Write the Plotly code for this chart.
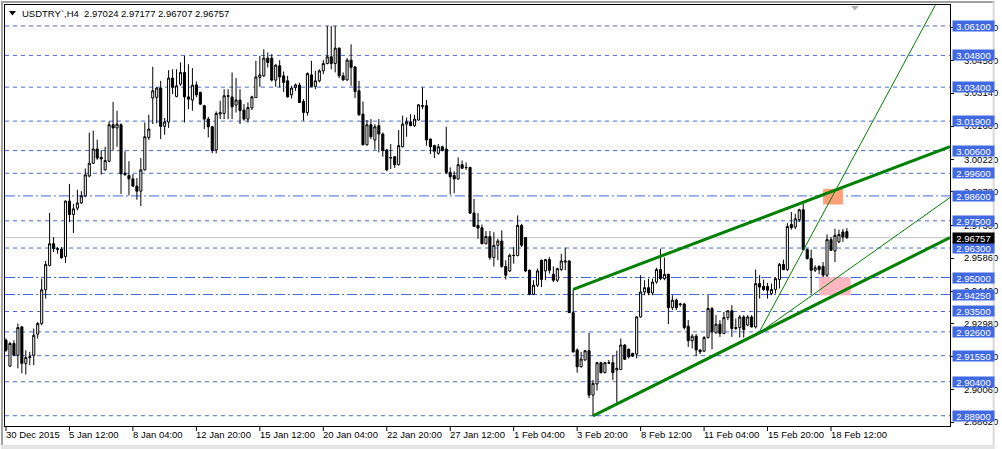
import plotly.graph_objects as go

# ---------------- data (USDTRY H4) ----------------
open_ = [2.9223, 2.9109, 2.9209, 2.9157, 2.9282, 2.9121, 2.9147, 2.9157, 2.9250, 2.9297,
         2.9446, 2.9553, 2.9649, 2.9627, 2.9625, 2.9593, 2.9837, 2.9778, 2.9806, 2.9829,
         2.9860, 2.9948, 3.0004, 3.0067, 3.0030, 2.9975, 3.0013, 3.0174, 3.0160, 3.0174,
         2.9960, 2.9950, 2.9935, 2.9903, 2.9881, 2.9975, 3.0118, 3.0292, 3.0295, 3.0336,
         3.0167, 3.0186, 3.0380, 3.0299, 3.0353, 3.0405, 3.0297, 3.0283, 3.0350, 3.0317,
         3.0258, 3.0199, 3.0165, 3.0063, 3.0221, 3.0224, 3.0302, 3.0297, 3.0261, 3.0283,
         3.0239, 3.0199, 3.0248, 3.0294, 3.0383, 3.0390, 3.0468, 3.0468, 3.0371, 3.0434,
         3.0390, 3.0368, 3.0306, 3.0339, 3.0349, 3.0277, 3.0228, 3.0394, 3.0343, 3.0368,
         3.0412, 3.0444, 3.0474, 3.0444, 3.0512, 3.0390, 3.0372, 3.0459, 3.0429, 3.0324,
         3.0221, 3.0086, 3.0174, 3.0107, 3.0170, 3.0133, 3.0063, 3.0027, 3.0033, 2.9998,
         3.0077, 3.0177, 3.0187, 3.0170, 3.0195, 3.0258, 3.0258, 3.0111, 3.0082, 3.0048,
         3.0077, 3.0067, 2.9964, 2.9950, 2.9935, 2.9998, 2.9986, 2.9986, 2.9785, 2.9730,
         2.9719, 2.9649, 2.9681, 2.9588, 2.9642, 2.9661, 2.9549, 2.9529, 2.9598, 2.9597,
         2.9730, 2.9676, 2.9532, 2.9426, 2.9466, 2.9576, 2.9529, 2.9579, 2.9514, 2.9488,
         2.9535, 2.9568, 2.9573, 2.9345, 2.9180, 2.9106, 2.9136, 2.9177, 2.8981, 2.9030,
         2.9124, 2.9080, 2.9124, 2.9124, 2.9092, 2.9094, 2.9202, 2.9183, 2.9165, 2.9162,
         2.9326, 2.9436, 2.9455, 2.9432, 2.9480, 2.9535, 2.9495, 2.9514, 2.9367, 2.9400,
         2.9380, 2.9383, 2.9285, 2.9221, 2.9241, 2.9180, 2.9175, 2.9235, 2.9363, 2.9256,
         2.9294, 2.9253, 2.9323, 2.9353, 2.9275, 2.9279, 2.9326, 2.9290, 2.9326, 2.9282,
         2.9473, 2.9461, 2.9461, 2.9429, 2.9447, 2.9491, 2.9558, 2.9535, 2.9734, 2.9723,
         2.9755, 2.9799, 2.9623, 2.9583, 2.9532, 2.9549, 2.9549, 2.9510, 2.9667, 2.9617,
         2.9657, 2.9701, 2.97024]
high = [2.9231, 2.9216, 2.9223, 2.9297, 2.9285, 2.9179, 2.9172, 2.9275, 2.9304, 2.9495,
        2.9573, 2.9785, 2.9678, 2.9634, 2.9634, 2.9840, 2.9913, 2.9825, 2.9887, 2.9881,
        2.9981, 3.0139, 3.0148, 3.0108, 3.0060, 3.0077, 3.0189, 3.0275, 3.0236, 3.0180,
        3.0057, 3.0013, 2.9957, 2.9939, 3.0027, 3.0184, 3.0218, 3.0430, 3.0341, 3.0368,
        3.0204, 3.0415, 3.0419, 3.0419, 3.0449, 3.0478, 3.0441, 3.0424, 3.0365, 3.0320,
        3.0262, 3.0209, 3.0170, 3.0233, 3.0280, 3.0331, 3.0331, 3.0405, 3.0380, 3.0331,
        3.0265, 3.0273, 3.0302, 3.0456, 3.0478, 3.0507, 3.0493, 3.0485, 3.0441, 3.0459,
        3.0409, 3.0390, 3.0346, 3.0356, 3.0359, 3.0287, 3.0405, 3.0456, 3.0412, 3.0419,
        3.0459, 3.0610, 3.0610, 3.0610, 3.0515, 3.0405, 3.0468, 3.0529, 3.0434, 3.0368,
        3.0277, 3.0195, 3.0199, 3.0177, 3.0199, 3.0140, 3.0067, 3.0089, 3.0035, 3.0151,
        3.0214, 3.0206, 3.0221, 3.0218, 3.0265, 3.0339, 3.0283, 3.0113, 3.0086, 3.0089,
        3.0082, 3.0165, 2.9986, 2.9969, 3.0030, 3.0016, 3.0008, 2.9988, 2.9847, 2.9784,
        2.9734, 2.9705, 2.9705, 2.9700, 2.9671, 2.9708, 2.9576, 2.9605, 2.9635, 2.9774,
        2.9737, 2.9679, 2.9535, 2.9488, 2.9539, 2.9579, 2.9582, 2.9590, 2.9549, 2.9543,
        2.9605, 2.9632, 2.9576, 2.9448, 2.9187, 2.9172, 2.9180, 2.9256, 2.9048, 2.9128,
        2.9128, 2.9128, 2.9136, 2.9158, 2.9177, 2.9231, 2.9206, 2.9187, 2.9168, 2.9329,
        2.9510, 2.9488, 2.9495, 2.9495, 2.9543, 2.9627, 2.9588, 2.9517, 2.9422, 2.9407,
        2.9388, 2.9388, 2.9312, 2.9250, 2.9250, 2.9183, 2.9241, 2.9422, 2.9370, 2.9334,
        2.9312, 2.9348, 2.9356, 2.9378, 2.9319, 2.9334, 2.9334, 2.9334, 2.9334, 2.9535,
        2.9510, 2.9491, 2.9476, 2.9473, 2.9500, 2.9564, 2.9579, 2.9740, 2.9789, 2.9781,
        2.9803, 2.9825, 2.9628, 2.9623, 2.9554, 2.9554, 2.9568, 2.9690, 2.9679, 2.9715,
        2.9711, 2.9715, 2.97177]
low = [2.9172, 2.9106, 2.9153, 2.9099, 2.9077, 2.9072, 2.9113, 2.9113, 2.9231, 2.9289,
       2.9407, 2.9549, 2.9612, 2.9605, 2.9583, 2.9564, 2.9744, 2.9696, 2.9796, 2.9825,
       2.9854, 2.9942, 3.0001, 3.0019, 2.9954, 2.9972, 3.0008, 3.0060, 3.0077, 2.9869,
       2.9950, 2.9862, 2.9901, 2.9843, 2.9815, 2.9972, 3.0107, 3.0177, 3.0180, 3.0111,
       3.0130, 3.0160, 3.0309, 3.0295, 3.0346, 3.0184, 3.0243, 3.0236, 3.0295, 3.0261,
       3.0155, 3.0118, 3.0049, 3.0048, 3.0199, 3.0199, 3.0199, 3.0199, 3.0228, 3.0177,
       3.0192, 3.0184, 3.0239, 3.0292, 3.0341, 3.0385, 3.0427, 3.0365, 3.0341, 3.0339,
       3.0319, 3.0294, 3.0290, 3.0324, 3.0270, 3.0192, 3.0214, 3.0339, 3.0331, 3.0361,
       3.0397, 3.0441, 3.0419, 3.0405, 3.0380, 3.0368, 3.0368, 3.0346, 3.0292, 3.0214,
       3.0082, 3.0082, 3.0111, 3.0064, 3.0052, 3.0033, 2.9969, 2.9979, 2.9983, 2.9994,
       3.0074, 3.0121, 3.0168, 3.0165, 3.0192, 3.0243, 3.0082, 3.0045, 3.0027, 3.0042,
       3.0057, 2.9957, 2.9866, 2.9872, 2.9931, 2.9979, 2.9975, 2.9781, 2.9722, 2.9671,
       2.9647, 2.9646, 2.9578, 2.9549, 2.9576, 2.9543, 2.9491, 2.9524, 2.9561, 2.9593,
       2.9635, 2.9524, 2.9422, 2.9422, 2.9458, 2.9458, 2.9488, 2.9517, 2.9480, 2.9480,
       2.9529, 2.9532, 2.9344, 2.9168, 2.9080, 2.9103, 2.9133, 2.8967, 2.8889, 2.9001,
       2.9077, 2.9077, 2.9118, 2.9048, 2.8948, 2.9092, 2.9136, 2.9143, 2.9150, 2.9143,
       2.9323, 2.9422, 2.9422, 2.9422, 2.9473, 2.9488, 2.9488, 2.9294, 2.9356, 2.9356,
       2.9371, 2.9271, 2.9194, 2.9187, 2.9153, 2.9162, 2.9172, 2.9231, 2.9183, 2.9253,
       2.9238, 2.9250, 2.9312, 2.9238, 2.9268, 2.9235, 2.9235, 2.9285, 2.9279, 2.9275,
       2.9407, 2.9441, 2.9407, 2.9422, 2.9429, 2.9451, 2.9532, 2.9529, 2.9711, 2.9714,
       2.9745, 2.9620, 2.9580, 2.9429, 2.9524, 2.9514, 2.9502, 2.9502, 2.9617, 2.9568,
       2.9652, 2.9657, 2.96707]
close = [2.9179, 2.9209, 2.9157, 2.9279, 2.9121, 2.9147, 2.9150, 2.9245, 2.9297, 2.9446,
         2.9558, 2.9649, 2.9627, 2.9625, 2.9587, 2.9837, 2.9778, 2.9803, 2.9829, 2.9860,
         2.9953, 3.0004, 3.0067, 3.0027, 3.0023, 3.0016, 3.0174, 3.0160, 3.0177, 2.9957,
         2.9953, 2.9935, 2.9903, 2.9881, 2.9975, 3.0121, 3.0155, 3.0324, 3.0336, 3.0167,
         3.0186, 3.0380, 3.0339, 3.0346, 3.0405, 3.0297, 3.0287, 3.0349, 3.0306, 3.0265,
         3.0199, 3.0165, 3.0060, 3.0224, 3.0228, 3.0302, 3.0300, 3.0253, 3.0283, 3.0236,
         3.0199, 3.0250, 3.0297, 3.0385, 3.0394, 3.0468, 3.0449, 3.0371, 3.0437, 3.0385,
         3.0361, 3.0297, 3.0336, 3.0350, 3.0272, 3.0228, 3.0400, 3.0343, 3.0368, 3.0412,
         3.0444, 3.0474, 3.0444, 3.0512, 3.0390, 3.0372, 3.0459, 3.0427, 3.0321, 3.0218,
         3.0086, 3.0174, 3.0121, 3.0165, 3.0133, 3.0060, 2.9975, 3.0029, 2.9998, 3.0082,
         3.0177, 3.0187, 3.0170, 3.0199, 3.0262, 3.0256, 3.0107, 3.0077, 3.0057, 3.0077,
         3.0060, 2.9964, 2.9945, 2.9935, 2.9998, 2.9982, 2.9985, 2.9784, 2.9725, 2.9718,
         2.9649, 2.9681, 2.9588, 2.9642, 2.9661, 2.9549, 2.9510, 2.9598, 2.9597, 2.9730,
         2.9642, 2.9529, 2.9426, 2.9466, 2.9529, 2.9491, 2.9579, 2.9532, 2.9488, 2.9539,
         2.9573, 2.9573, 2.9345, 2.9172, 2.9106, 2.9140, 2.9177, 2.8981, 2.9033, 2.9124,
         2.9080, 2.9124, 2.9122, 2.9080, 2.9099, 2.9202, 2.9139, 2.9150, 2.9153, 2.9326,
         2.9436, 2.9455, 2.9432, 2.9480, 2.9535, 2.9495, 2.9514, 2.9367, 2.9400, 2.9367,
         2.9383, 2.9279, 2.9221, 2.9241, 2.9180, 2.9172, 2.9235, 2.9363, 2.9260, 2.9294,
         2.9253, 2.9323, 2.9353, 2.9275, 2.9279, 2.9326, 2.9271, 2.9326, 2.9282, 2.9473,
         2.9458, 2.9447, 2.9444, 2.9447, 2.9495, 2.9558, 2.9535, 2.9725, 2.9720, 2.9759,
         2.9799, 2.9623, 2.9583, 2.9532, 2.9543, 2.9535, 2.9510, 2.9667, 2.9620, 2.9686,
         2.9690, 2.9679, 2.96757]

bars = list(range(len(close)))

# time labels every 16 bars
tick_bars = [0, 16, 32, 48, 64, 80, 96, 112, 128, 144, 160, 176, 192, 208]
tick_text = ["30 Dec 2015", "5 Jan 12:00", "8 Jan 04:00", "12 Jan 20:00", "15 Jan 12:00",
             "20 Jan 04:00", "22 Jan 20:00", "27 Jan 12:00", "1 Feb 04:00", "3 Feb 20:00",
             "8 Feb 12:00", "11 Feb 04:00", "15 Feb 20:00", "18 Feb 12:00"]

# price scale labels
price_ticks = [3.06040, 3.04580, 3.03140, 3.01680, 3.00220, 2.98780, 2.97300, 2.95860,
               2.94400, 2.92980, 2.91520, 2.90060, 2.88620]

# horizontal level lines
levels = [3.061, 3.048, 3.034, 3.019, 3.006, 2.996, 2.986, 2.975, 2.963, 2.950,
          2.9425, 2.935, 2.926, 2.9155, 2.904, 2.889]
level_dashdot = [2.986, 2.950, 2.9425]

# trend lines: (bar0, price0, bar1, price1)
upper_channel = (143, 2.9448, 238, 3.0077)
lower_channel = (148, 2.8889, 238, 2.9676)
fan_steep = (189.75, 2.9254, 234.3, 3.0702)
fan_mid = (189.75, 2.9254, 238, 2.9853)

# rectangles: (bar0, price0, bar1, price1)
rect_orange = (206, 2.9891, 211, 2.9822)
rect_pink = (205, 2.9501, 213, 2.9421)

symbol = "USDTRY`,H4"
last_price = close[-1]

# ---------------- figure ----------------
W, H = 1002, 449
L, R, T, B = 4, 45, 4, 23
PW, PH = W - L - R, H - T - B


def px_x(p):
    return (p - L) / PW


def px_y(p):
    return (H - B - p) / PH


FONT = "Liberation Sans, Arial, sans-serif"
BLUE = "#4169E1"

fig = go.Figure()
fig.add_trace(go.Candlestick(
    x=bars, open=open_, high=high, low=low, close=close,
    increasing=dict(line=dict(color="black", width=1), fillcolor="white"),
    decreasing=dict(line=dict(color="black", width=1), fillcolor="black"),
    whiskerwidth=0, hoverinfo="none", showlegend=False,
))

shapes = []
# rectangles (background objects)
for (x0, y0, x1, y1), col in [(rect_orange, "#FFA07A"), (rect_pink, "#FFB6C1")]:
    shapes.append(dict(type="rect", xref="x", yref="y", x0=x0, x1=x1, y0=y0, y1=y1,
                       fillcolor=col, line=dict(width=0), layer="below"))
# level lines
for lv in levels:
    dash = "10px,3px,2px,3px" if lv in level_dashdot else "4px,4px"
    shapes.append(dict(type="line", xref="paper", yref="y", x0=0, x1=1, y0=lv, y1=lv,
                       line=dict(color=BLUE, width=1, dash=dash), layer="below"))
# current price line
shapes.append(dict(type="line", xref="paper", yref="y", x0=0, x1=1, y0=last_price, y1=last_price,
                   line=dict(color="#C0C0C0", width=1), layer="below"))
# trend lines
for (x0, y0, x1, y1), w in [(upper_channel, 3), (lower_channel, 3), (fan_steep, 1), (fan_mid, 1)]:
    shapes.append(dict(type="line", xref="x", yref="y", x0=x0, y0=y0, x1=x1, y1=y1,
                       line=dict(color="#008000", width=w), layer="above"))

# window frame
shapes += [
    dict(type="rect", xref="paper", yref="paper", x0=px_x(0), x1=px_x(2), y0=px_y(449), y1=px_y(0),
         fillcolor="#A0A0A0", line=dict(width=0)),
    dict(type="rect", xref="paper", yref="paper", x0=px_x(0), x1=px_x(1002), y0=px_y(2), y1=px_y(0),
         fillcolor="#A0A0A0", line=dict(width=0)),
    dict(type="rect", xref="paper", yref="paper", x0=px_x(1000), x1=px_x(1002), y0=px_y(449), y1=px_y(0),
         fillcolor="#D8D8D8", line=dict(width=0)),
    dict(type="rect", xref="paper", yref="paper", x0=px_x(0), x1=px_x(1002), y0=px_y(449), y1=px_y(445),
         fillcolor="#E4E4E4", line=dict(width=0)),
]
# header triangle and shift marker
shapes.append(dict(type="path", xref="paper", yref="paper",
                   path=f"M {px_x(8)},{px_y(10)} L {px_x(15)},{px_y(10)} L {px_x(11.5)},{px_y(14.5)} Z",
                   fillcolor="black", line=dict(width=0)))
shapes.append(dict(type="path", xref="paper", yref="paper",
                   path=f"M {px_x(857)},{px_y(5)} L {px_x(865)},{px_y(5)} L {px_x(861)},{px_y(9.5)} Z",
                   fillcolor="#B0B0B0", line=dict(width=0)))
# x tick marks
for tb in tick_bars:
    shapes.append(dict(type="line", xref="x", yref="paper", x0=tb, x1=tb, y0=0, y1=px_y(431),
                       line=dict(color="black", width=1)))

annotations = []
# header text
annotations.append(dict(
    xref="paper", yref="paper", x=px_x(19), y=px_y(12.5), xanchor="left", yanchor="middle",
    showarrow=False,
    text=f"{symbol}\u00a0\u00a0{open_[-1]:.5f} {high[-1]:.5f} {low[-1]:.5f} {close[-1]:.5f}",
    font=dict(family=FONT, size=9.5, color="black")))
# time labels
for tb, tt in zip(tick_bars, tick_text):
    annotations.append(dict(xref="x", yref="paper", x=tb, y=px_y(434.5), xanchor="left",
                            yanchor="middle", xshift=-2, showarrow=False, text=tt,
                            font=dict(family=FONT, size=9.5, color="black")))
# level labels
for lv in levels:
    annotations.append(dict(xref="paper", yref="y", x=px_x(959), y=lv, xanchor="left",
                            yanchor="middle", showarrow=False, text=f"{lv:.5f}",
                            bgcolor=BLUE, width=41, height=10, borderpad=0, align="center",
                            font=dict(family=FONT, size=9.5, color="white")))
annotations.append(dict(xref="paper", yref="y", x=px_x(959), y=last_price, xanchor="left",
                        yanchor="middle", showarrow=False, text=f"{last_price:.5f}",
                        bgcolor="black", width=41, height=10, borderpad=0, align="center",
                        font=dict(family=FONT, size=9.5, color="white")))

fig.update_layout(
    width=W, height=H, autosize=False, margin=dict(l=L, r=R, t=T, b=B, pad=0),
    paper_bgcolor="white", plot_bgcolor="white",
    boxgap=0.25, showlegend=False, hovermode=False,
    shapes=shapes, annotations=annotations,
    xaxis=dict(range=[-0.25, 238], showgrid=False, zeroline=False, showticklabels=False,
               ticks="", showline=True, mirror=True, linecolor="black", linewidth=1,
               rangeslider=dict(visible=False), fixedrange=True),
    yaxis=dict(range=[2.88447, 3.07025], side="right", showgrid=False, zeroline=False,
               tickvals=price_ticks, ticktext=[f"{v:.5f}" for v in price_ticks],
               ticks="outside", ticklen=3, tickcolor="black", ticklabelstandoff=8,
               tickfont=dict(family=FONT, size=9.5, color="black"),
               showline=True, mirror=True, linecolor="black", linewidth=1, fixedrange=True),
)

page_fix = (
    "var s=document.createElement('style');"
    "s.textContent='html,body{margin:0!important;padding:0!important;overflow:hidden!important;"
    "width:1002px;height:449px;}';"
    "document.head.appendChild(s);"
    "var gd=document.getElementById('{plot_id}');"
    "gd.parentElement.style.lineHeight='0';"
    "gd.parentElement.style.height='449px';"
    "gd.parentElement.style.overflow='hidden';"
)

fig.write_html("out.html", config={"displayModeBar": False, "responsive": False},
               post_script=page_fix)
